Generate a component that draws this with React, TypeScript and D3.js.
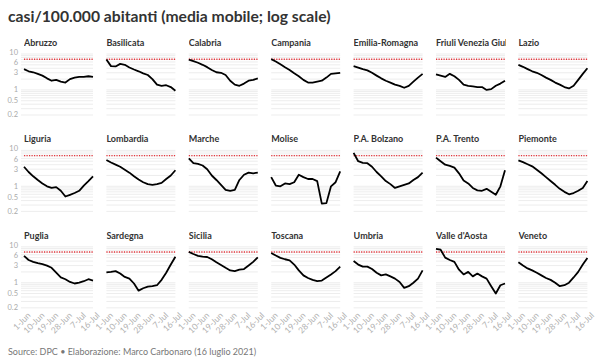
import * as React from "react";
import * as d3 from "d3";

const regions = [
  "Abruzzo", "Basilicata", "Calabria", "Campania", "Emilia-Romagna", "Friuli Venezia Giulia", "Lazio",
  "Liguria", "Lombardia", "Marche", "Molise", "P.A. Bolzano", "P.A. Trento", "Piemonte",
  "Puglia", "Sardegna", "Sicilia", "Toscana", "Umbria", "Valle d'Aosta", "Veneto",
];

// days since 1 June 2021
const dayOffsets = [0, 3, 6, 9, 12, 15, 18, 21, 24, 27, 30, 33, 36, 39, 42, 45];

const abruzzo = [3.8, 3.3, 3.1, 2.8, 2.5, 2.1, 1.8, 1.9, 1.7, 1.6, 2.0, 2.2, 2.3, 2.3, 2.4, 2.3];
const basilicata = [7.0, 4.6, 4.5, 5.3, 5.0, 4.2, 3.7, 3.3, 2.9, 2.6, 2.0, 1.4, 1.3, 1.35, 1.2, 0.95];
const calabria = [7.0, 6.3, 5.7, 5.0, 4.3, 3.6, 3.1, 3.0, 2.6, 1.8, 1.4, 1.3, 1.5, 1.8, 1.9, 2.1];
const campania = [7.2, 6.2, 5.2, 4.3, 3.6, 2.9, 2.4, 1.9, 1.6, 1.6, 1.7, 1.8, 2.2, 2.8, 2.9, 3.0];
const emiliaRomagna = [4.6, 4.2, 3.8, 3.5, 3.0, 2.5, 2.1, 1.8, 1.6, 1.4, 1.3, 1.15, 1.3, 1.7, 2.2, 2.8];
const friuli = [2.7, 2.5, 2.3, 2.8, 2.4, 1.9, 1.4, 1.3, 1.25, 1.2, 1.2, 1.0, 1.05, 1.3, 1.5, 1.8];
const lazio = [5.0, 4.4, 3.8, 3.3, 3.0, 2.6, 2.2, 1.9, 1.6, 1.4, 1.2, 1.1, 1.3, 1.9, 2.8, 4.0];
const liguria = [3.5, 2.5, 1.9, 1.5, 1.2, 1.0, 0.9, 0.95, 0.75, 0.52, 0.58, 0.65, 0.75, 1.05, 1.4, 1.9];
const lombardia = [5.4, 4.6, 4.0, 3.5, 2.9, 2.4, 1.9, 1.55, 1.3, 1.15, 1.1, 1.15, 1.25, 1.6, 2.0, 2.8];
const marche = [6.0, 4.4, 4.2, 3.8, 3.0, 2.0, 1.5, 1.1, 0.8, 0.75, 0.8, 1.5, 2.1, 2.4, 2.3, 2.4];
const molise = [1.8, 1.05, 1.0, 1.2, 1.15, 1.3, 2.1, 1.8, 1.6, 1.6, 1.4, 0.33, 0.34, 1.0, 1.3, 2.6];
const bolzano = [8.5, 5.0, 4.5, 4.4, 3.5, 2.5, 1.9, 1.4, 1.15, 0.9, 1.0, 1.1, 1.2, 1.5, 1.8, 2.4];
const trento = [6.3, 5.0, 4.0, 3.7, 3.3, 2.3, 1.45, 1.2, 0.9, 0.77, 0.75, 0.85, 0.7, 0.58, 1.0, 2.8];
const piemonte = [5.3, 4.7, 4.1, 3.6, 2.9, 2.3, 1.8, 1.4, 1.1, 0.85, 0.7, 0.6, 0.65, 0.75, 0.9, 1.4];
const puglia = [5.6, 4.3, 3.8, 3.5, 3.3, 3.0, 2.6, 1.9, 1.4, 1.25, 1.05, 0.95, 1.0, 1.1, 1.25, 1.15];
const sardegna = [1.95, 2.0, 2.1, 1.8, 1.45, 1.3, 0.95, 0.6, 0.7, 0.78, 0.8, 0.85, 1.2, 1.9, 3.2, 5.3];
const sicilia = [7.2, 6.3, 5.6, 5.3, 5.2, 4.5, 3.7, 3.1, 2.6, 2.2, 2.1, 2.3, 2.4, 3.0, 3.8, 5.1];
const toscana = [6.7, 5.7, 4.9, 4.5, 4.2, 3.2, 2.2, 1.6, 1.35, 1.2, 1.1, 1.15, 1.4, 1.7, 2.1, 2.8];
const umbria = [4.0, 3.2, 2.8, 2.8, 2.4, 1.9, 1.6, 1.7, 1.5, 1.3, 1.05, 0.72, 0.8, 1.0, 1.3, 2.2];
const valleAosta = [8.8, 8.3, 5.0, 4.3, 3.8, 2.3, 1.7, 2.0, 1.5, 1.8, 1.5, 1.3, 0.8, 0.5, 0.85, 0.95];
const veneto = [3.7, 3.0, 2.5, 2.2, 1.9, 1.6, 1.35, 1.2, 1.0, 0.8, 0.85, 1.0, 1.4, 2.0, 3.2, 4.9];

const seriesByRegion = [
  abruzzo, basilicata, calabria, campania, emiliaRomagna, friuli, lazio,
  liguria, lombardia, marche, molise, bolzano, trento, piemonte,
  puglia, sardegna, sicilia, toscana, umbria, valleAosta, veneto,
];

const yTickValues = [10, 6, 3, 1, 0.5, 0.2];
const gridValues = [10, 9, 8, 7, 6, 5, 4, 3, 2, 1, 0.9, 0.8, 0.7, 0.6, 0.5, 0.4, 0.3, 0.2];
const xTickDays = [0, 9, 18, 27, 36, 45];
const xTickLabels = ["1-Jun", "10-Jun", "19-Jun", "28-Jun", "7-Jul", "16-Jul"];
const threshold = 50 / 7; // 50 casi/100.000 a settimana

const W = 600;
const H = 358;
const cols = 7;
const colX0 = 24;
const colPitch = 82.4;
const panelW = 69;
const rowTop0 = 54;
const rowPitch = 96.4;
const panelH = 61;
const font = "Lato, 'Noto Sans', sans-serif";

function Panel({ index }) {
  const col = index % cols;
  const row = Math.floor(index / cols);
  const x0 = colX0 + col * colPitch;
  const y0 = rowTop0 + row * rowPitch;
  const values = seriesByRegion[index];

  const x = d3.scaleLinear().domain([0, 45]).range([0, panelW]);
  const y = d3.scaleLog().domain([0.2, 10]).range([panelH, 0]);
  const line = d3
    .line<number>()
    .x((_, i) => x(dayOffsets[i]))
    .y((v) => y(v));

  const clipId = `clip-${index}`;

  return (
    <g transform={`translate(${x0},${y0})`}>
      <clipPath id={clipId}>
        <rect x={0} y={-20} width={panelW + 1} height={20} />
      </clipPath>
      <text
        x={0}
        y={-8}
        fontSize={9}
        fontWeight={700}
        fill="#333"
        clipPath={`url(#${clipId})`}
      >
        {regions[index]}
      </text>
      {gridValues.map((g) => (
        <line
          key={`g-${g}`}
          x1={col === 0 ? -3 : 0}
          x2={panelW}
          y1={y(g)}
          y2={y(g)}
          stroke="#e8e8e8"
          strokeWidth={0.8}
        />
      ))}
      {col === 0 &&
        yTickValues.map((t) => (
          <text
            key={`yt-${t}`}
            x={-6}
            y={y(t) + (t === 10 ? -1.5 : t === 6 ? 1 : 0)}
            dy="0.32em"
            textAnchor="end"
            fontSize={7.5}
            fill="#aaa"
          >
            {t}
          </text>
        ))}
      <line
        x1={0}
        x2={panelW}
        y1={y(threshold)}
        y2={y(threshold)}
        stroke="#e4343b"
        strokeWidth={1.4}
        strokeDasharray="1.2,1.3"
      />
      <path d={line(values) ?? ""} fill="none" stroke="#000" strokeWidth={1.8} strokeLinejoin="round" />
      {row === 2 &&
        xTickDays.map((d, i) => (
          <text
            key={`xt-${d}`}
            transform={`translate(${x(d) + 3},${panelH + 4}) rotate(-45)`}
            textAnchor="end"
            dy="0.7em"
            fontSize={8.5}
            fill="#b0b0b0"
          >
            {xTickLabels[i]}
          </text>
        ))}
    </g>
  );
}

export default function App() {
  return (
    <svg
      width={W}
      height={H}
      viewBox={`0 0 ${W} ${H}`}
      style={{ position: "absolute", left: 0, top: 0, background: "#fff", fontFamily: font }}
    >
      <rect width={W} height={H} fill="#fff" />
      <text x={8} y={22} fontSize={15.7} fontWeight={700} fill="#333">
        casi/100.000 abitanti (media mobile; log scale)
      </text>
      {regions.map((r, i) => (
        <Panel key={r} index={i} />
      ))}
      <text x={8} y={355} fontSize={9} fill="#777">
        Source: DPC • Elaborazione: Marco Carbonaro (16 luglio 2021)
      </text>
    </svg>
  );
}
